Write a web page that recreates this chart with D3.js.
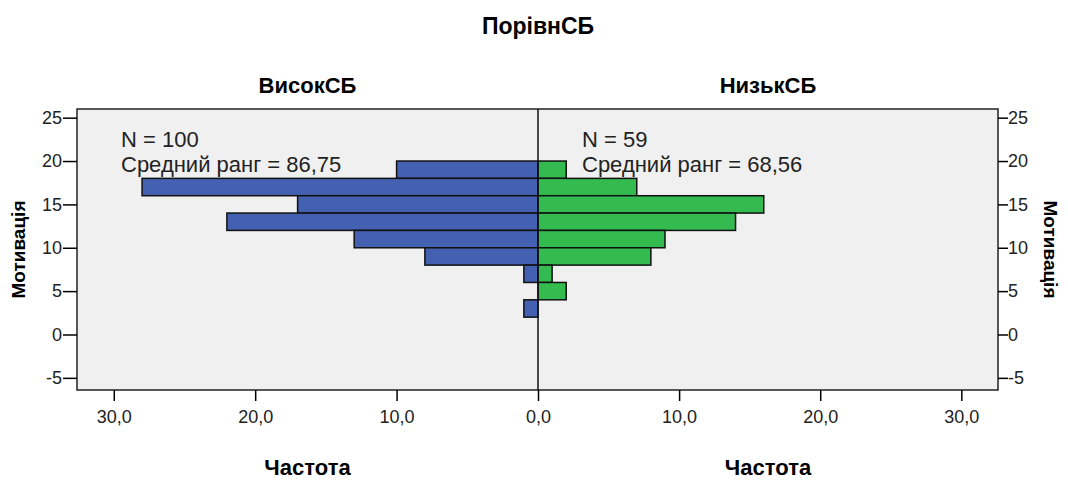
<!DOCTYPE html>
<meta charset="utf-8">
<style>
body { margin: 0; background: #fff; }
text { font-family: "Liberation Sans", Arial, sans-serif; fill: #000; }
.title, .panel-title, .x-title { font-weight: bold; }
.y-title { font-weight: bold; font-size: 19px; }
.axis path, .axis line { stroke: #000; }
.axis text { font-size: 18px; fill: #222; font-family: "Liberation Sans", Arial, sans-serif; }
.frame { fill: #f0f0f0; stroke: #222; stroke-width: 1.5; }
.bar { stroke: #111; stroke-width: 1.5; }
.note { font-size: 22px; fill: #222; }
</style>
<svg width="1068" height="482"></svg>
<script src="https://d3js.org/d3.v7.min.js"></script>
<script>

// bins of Мотивація (lower edges), bin width 2
var bins = [18, 16, 14, 12, 10, 8, 6, 4, 2];
var highCounts = [10, 28, 17, 22, 13, 8, 1, 0, 1]; // ВисокСБ
var lowCounts  = [2, 7, 16, 14, 9, 8, 1, 2, 0];    // НизькСБ
var yTicks = [-5, 0, 5, 10, 15, 20, 25];
var xTicks = [0, 10, 20, 30];
var notesHigh = ["N = 100", "Средний ранг = 86,75"];
var notesLow = ["N = 59", "Средний ранг = 68,56"];

var svg = d3.select("svg");

var plotLeft = 77, plotRight = 998, mid = 538, plotTop = 109, plotBottom = 390;

var y = d3.scaleLinear().domain([-6.4, 26]).range([plotBottom, plotTop]);
var xl = d3.scaleLinear().domain([0, 32.6]).range([mid, plotLeft]);
var xr = d3.scaleLinear().domain([0, 32.6]).range([mid, plotRight]);

var fmt = function(d) { return d3.format(".1f")(d).replace(".", ","); };
var yfmt = function(d) { return String(d); };

svg.append("text")
    .attr("class", "title")
    .attr("x", mid).attr("y", 34)
    .attr("text-anchor", "middle")
    .style("font-size", "23px")
    .text("ПорівнСБ");

svg.append("rect")
    .attr("class", "frame")
    .attr("x", plotLeft).attr("y", plotTop)
    .attr("width", plotRight - plotLeft).attr("height", plotBottom - plotTop);

svg.selectAll(".bar.high")
  .data(bins)
  .enter().append("rect")
    .attr("class", "bar high")
    .attr("fill", "#4460b0")
    .attr("x", function(d, i) { return xl(highCounts[i]); })
    .attr("y", function(d) { return y(d + 2); })
    .attr("width", function(d, i) { return xl(0) - xl(highCounts[i]); })
    .attr("height", function(d) { return y(d) - y(d + 2); })
    .style("display", function(d, i) { return highCounts[i] ? null : "none"; });

svg.selectAll(".bar.low")
  .data(bins)
  .enter().append("rect")
    .attr("class", "bar low")
    .attr("fill", "#33bb4f")
    .attr("x", xr(0))
    .attr("y", function(d) { return y(d + 2); })
    .attr("width", function(d, i) { return xr(lowCounts[i]) - xr(0); })
    .attr("height", function(d) { return y(d) - y(d + 2); })
    .style("display", function(d, i) { return lowCounts[i] ? null : "none"; });

svg.append("line")
    .attr("x1", mid).attr("x2", mid)
    .attr("y1", plotTop).attr("y2", plotBottom)
    .attr("stroke", "#111").attr("stroke-width", 1.5);

svg.append("g")
    .attr("class", "y axis")
    .attr("transform", "translate(" + plotLeft + ",0)")
    .call(d3.axisLeft(y).tickValues(yTicks).tickFormat(yfmt).tickSize(14).tickPadding(1).tickSizeOuter(0))
    .call(function(g) { g.select(".domain").remove(); });

svg.append("g")
    .attr("class", "y axis")
    .attr("transform", "translate(" + plotRight + ",0)")
    .call(d3.axisRight(y).tickValues(yTicks).tickFormat(yfmt).tickSize(10).tickPadding(0).tickSizeOuter(0))
    .call(function(g) { g.select(".domain").remove(); });

svg.append("g")
    .attr("class", "x axis")
    .attr("transform", "translate(0," + plotBottom + ")")
    .call(d3.axisBottom(xl).tickValues(xTicks).tickFormat(fmt).tickSize(11).tickPadding(9))
    .call(function(g) { g.select(".domain").remove(); });

svg.append("g")
    .attr("class", "x axis")
    .attr("transform", "translate(0," + plotBottom + ")")
    .call(d3.axisBottom(xr).tickValues(xTicks.slice(1)).tickFormat(fmt).tickSize(11).tickPadding(9))
    .call(function(g) { g.select(".domain").remove(); });

svg.selectAll(".axis .tick line").attr("stroke-width", 1.5);

var panels = [
  {name: "ВисокСБ", cx: (plotLeft + mid) / 2, tx: 121, note: notesHigh},
  {name: "НизькСБ", cx: (mid + plotRight) / 2, tx: 582, note: notesLow}
];

panels.forEach(function(p) {
  svg.append("text")
      .attr("class", "panel-title")
      .attr("x", p.cx).attr("y", 93)
      .attr("text-anchor", "middle")
      .style("font-size", "22px")
      .text(p.name);

  svg.append("text")
      .attr("class", "x-title")
      .attr("x", p.cx).attr("y", 475)
      .attr("text-anchor", "middle")
      .style("font-size", "22px")
      .text("Частота");

  p.note.forEach(function(t, i) {
    svg.append("text")
        .attr("class", "note")
        .attr("x", p.tx).attr("y", 147 + i * 25)
        .text(t);
  });
});

svg.append("text")
    .attr("class", "y-title")
    .attr("transform", "translate(25," + (plotTop + plotBottom) / 2 + ") rotate(-90)")
    .attr("text-anchor", "middle")
    .text("Мотивація");

svg.append("text")
    .attr("class", "y-title")
    .attr("transform", "translate(1044," + (plotTop + plotBottom) / 2 + ") rotate(90)")
    .attr("text-anchor", "middle")
    .text("Мотивація");

</script>
